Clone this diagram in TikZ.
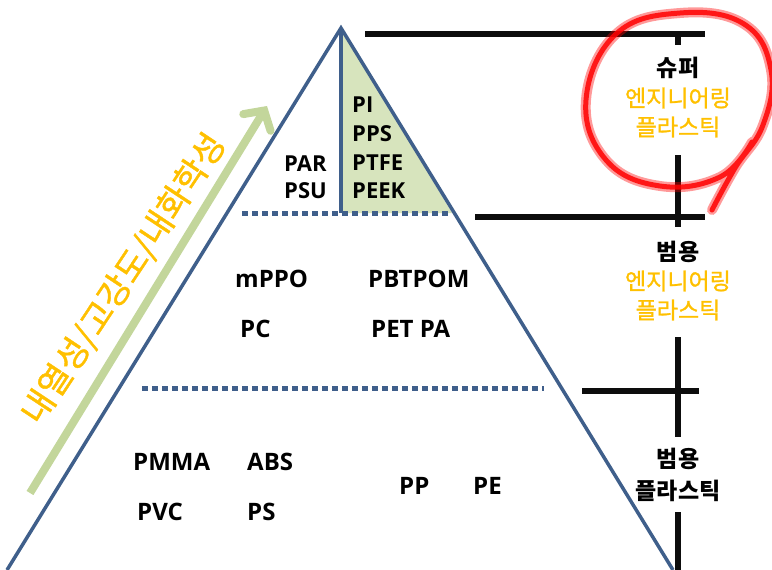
\documentclass[tikz,border=0pt]{standalone}
\usepackage{fontspec}
\newfontfamily\kfont{Noto Sans CJK KR}
\newfontfamily\kfontm{Noto Sans CJK KR}[FakeBold=1.2]
\newfontfamily\lfont{Open Sans}
\usetikzlibrary{arrows.meta}
\definecolor{pyrblue}{HTML}{3F5F8B}
\definecolor{topgreen}{HTML}{D7E4BD}
\definecolor{arrgreen}{HTML}{C3D69B}
\definecolor{gold}{HTML}{FFC000}
\definecolor{barblack}{HTML}{0D0D0D}
\begin{document}
\begin{tikzpicture}[x=1pt, y=-1pt,
  pyrline/.style={draw=pyrblue, line width=3.5pt, line join=miter},
  dotline/.style={pyrblue, line width=5pt, dash pattern=on 6pt off 4pt},
  blackbar/.style={barblack, line width=5.5pt},
  ptop/.style={font=\lfont\bfseries\fontsize{22}{22}\selectfont, anchor=base west, inner sep=0pt},
  plab/.style={font=\lfont\bfseries\fontsize{24}{24}\selectfont, anchor=base west, inner sep=0pt},
  kblack/.style={font=\kfont\bfseries\fontsize{23}{23}\selectfont, inner sep=0pt},
  korange/.style={font=\kfontm\fontsize{23}{23}\selectfont, text=gold, inner sep=0pt},
  redloop/.style={draw=red, line width=10pt, line cap=round, line join=round, opacity=0.4},
  redcore/.style={draw=red, line width=5pt, line cap=round, line join=round, opacity=0.85}
]
  \useasboundingbox (0,0) rectangle (772,570);

  % pyramid
  \coordinate (apex) at (341,28);
  \coordinate (bl)   at (7,570);
  \coordinate (br)   at (673,570);
  \coordinate (gbl)  at (341,213);
  \coordinate (gbr)  at (452,213);
  \fill[topgreen] (apex) -- (gbr) -- (gbl) -- cycle;
  \draw[pyrline] (bl) -- (apex) -- (br);
  \draw[pyrline] (apex) -- (gbl);

  \coordinate (d1a) at (242,213);
  \coordinate (d1b) at (450,213);
  \coordinate (d2a) at (142,388);
  \coordinate (d2b) at (544,388);
  \draw[dotline] (d1a) -- (d1b);
  \draw[dotline] (d2a) -- (d2b);

  % arrow
  \coordinate (atail) at (30,493);
  \coordinate (ahead) at (267,106);
  \draw[arrgreen, line width=8pt, -{Straight Barb[length=14pt, width=32pt, line cap=round]}] (atail) -- (ahead);
  \node[font=\kfontm\fontsize{34}{34}\selectfont, text=gold, rotate=56.5, inner sep=0pt] (prop) at (124,279) {내열성/고강도/내화학성};

  % polymer labels
  \node[ptop] (pi)   at (352,112) {PI};
  \node[ptop] (pps)  at (352,141) {PPS};
  \node[ptop] (ptfe) at (352,170) {PTFE};
  \node[ptop] (peek) at (352,198) {PEEK};
  \node[ptop] (par)  at (284,171) {PAR};
  \node[ptop] (psu)  at (284,198) {PSU};

  \node[plab] (mppo)   at (235,287) {mPPO};
  \node[plab] (pbtpom) at (368,287) {PBTPOM};
  \node[plab] (pc)     at (240,337) {PC};
  \node[plab] (petpa)  at (371,337) {PET PA};

  \node[plab] (pmma) at (133,470) {PMMA};
  \node[plab] (abs)  at (247,470) {ABS};
  \node[plab] (pvc)  at (137,520) {PVC};
  \node[plab] (ps)   at (247,520) {PS};
  \node[plab] (pp)   at (399,494) {PP};
  \node[plab] (pe)   at (473,494) {PE};

  % scale bars
  \draw[blackbar] (365,34) -- (705,34);
  \draw[blackbar] (678,34) -- (678,45);
  \draw[blackbar] (678,155) -- (678,227);
  \draw[blackbar] (475,217) -- (705,217);
  \draw[blackbar] (678,337) -- (678,437);
  \draw[blackbar] (582,391) -- (699,391);
  \draw[blackbar] (678,512) -- (678,570);

  % class labels
  \node[kblack]  (sup1) at (678,68)  {슈퍼};
  \node[korange] (sup2) at (678,98)  {엔지니어링};
  \node[korange] (sup3) at (678,127) {플라스틱};
  \node[kblack]  (gen1) at (678,252) {범용};
  \node[korange] (gen2) at (678,281) {엔지니어링};
  \node[korange] (gen3) at (678,310) {플라스틱};
  \node[kblack]  (com1) at (678,459) {범용};
  \node[kblack]  (com2) at (678,491) {플라스틱};

  % red circle
  \draw[redloop] plot[smooth, tension=0.7] coordinates {(712,210) (735,168) (763,125) (771,70) (744,24) (680,13) (616,34) (586,100) (606,160) (660,186) (720,177) (752,142)};
  \draw[redcore] plot[smooth, tension=0.7] coordinates {(712,210) (735,168) (763,125) (771,70) (744,24) (680,13) (616,34) (586,100) (606,160) (660,186) (720,177) (752,142)};
\end{tikzpicture}
\end{document}
